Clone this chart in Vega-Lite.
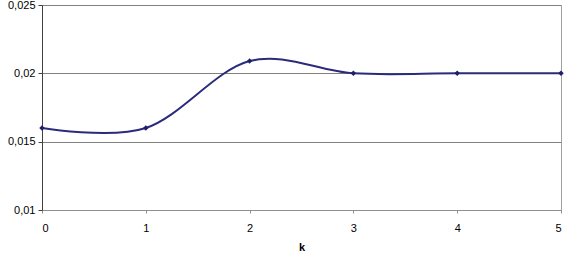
{
  "$schema": "https://vega.github.io/schema/vega-lite/v6.json",
  "autosize": {"type": "none"},
  "width": 519,
  "height": 205,
  "padding": {"left": 42, "top": 5, "right": 3, "bottom": 44},
  "background": "white",
  "config": {
    "locale": {"number": {"decimal": ",", "thousands": ".", "grouping": [3], "currency": ["", " €"]}},
    "view": {"stroke": "#a0a0a0", "strokeWidth": 1},
    "font": "Liberation Sans"
  },
  "data": {
    "values": [
      {"k": 0, "v": 0.016},
      {"k": 1, "v": 0.016},
      {"k": 2, "v": 0.0209},
      {"k": 3, "v": 0.02},
      {"k": 4, "v": 0.02},
      {"k": 5, "v": 0.02}
    ]
  },
  "encoding": {
    "x": {
      "field": "k", "type": "quantitative",
      "scale": {"domain": [0, 5], "nice": false, "zero": false},
      "axis": {
        "values": [0, 1, 2, 3, 4, 5], "format": "d", "grid": false,
        "domainColor": "#909090", "tickColor": "#909090", "tickSize": 3,
        "labelFontSize": 11, "labelColor": "#000000", "labelPadding": 9,
        "title": "k", "titleFontSize": 11, "titleFontWeight": "bold", "titlePadding": 8, "titleColor": "#000000"
      }
    },
    "y": {
      "field": "v", "type": "quantitative",
      "scale": {"domain": [0.01, 0.025], "nice": false, "zero": false},
      "axis": {
        "values": [0.01, 0.015, 0.02, 0.025], "format": ".3~f",
        "grid": true, "gridColor": "#808080", "gridOpacity": 1,
        "domainColor": "#404040", "tickColor": "#404040", "tickSize": 4,
        "labelFontSize": 11, "labelColor": "#000000", "labelPadding": 3,
        "title": null
      }
    }
  },
  "layer": [
    {
      "mark": {"type": "line", "interpolate": "cardinal", "tension": 0, "color": "#2b2b7c", "strokeWidth": 2}
    },
    {
      "mark": {"type": "point", "shape": "diamond", "filled": true, "size": 30, "color": "#1f1f6a", "opacity": 1}
    }
  ]
}
